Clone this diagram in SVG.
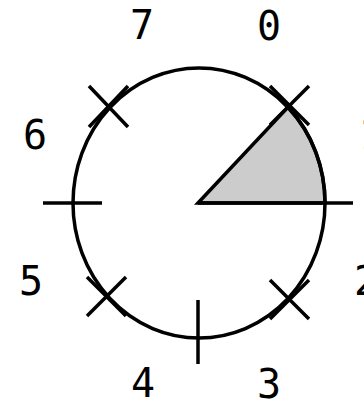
<svg xmlns="http://www.w3.org/2000/svg" width="364" height="404" viewBox="0 0 364 404">
<style>
.ln{stroke:#000;stroke-width:3.5;fill:none;stroke-linecap:butt}
.lbl{font-family:"DejaVu Sans Mono","Liberation Mono",monospace;font-size:40px;fill:#000;text-anchor:middle}
</style>
<rect width="364" height="404" fill="#fff"/>
<g id="wedge">
<path d="M198,203 L288,107 A126,135 0 0,1 325,203 Z" fill="#cccccc" stroke="#000" stroke-width="3.5"/>
</g>
<g id="dial">
<ellipse cx="199" cy="203" rx="126" ry="135" class="ln"/>
</g>
<g id="ticks">
<line x1="43" y1="203" x2="102" y2="203" class="ln"/>
<line x1="198" y1="203" x2="353" y2="203" class="ln"/>
<line x1="198" y1="300" x2="198" y2="364" class="ln"/>
<path d="M89,86 L128,127 M128,86 L89,127" class="ln"/>
<path d="M270,86 L309,125 M309,86 L270,125" class="ln"/>
<path d="M87,277 L126,316 M126,277 L87,316" class="ln"/>
<path d="M270,280 L309,319 M309,280 L270,319" class="ln"/>
</g>
<g id="labels">
<text x="142" y="39" class="lbl">7</text>
<text x="269" y="40" class="lbl">0</text>
<text x="371" y="149" class="lbl">1</text>
<text x="366" y="295" class="lbl">2</text>
<text x="269" y="398" class="lbl">3</text>
<text x="143" y="397" class="lbl">4</text>
<text x="31" y="295" class="lbl">5</text>
<text x="35" y="149" class="lbl">6</text>
</g>
</svg>
